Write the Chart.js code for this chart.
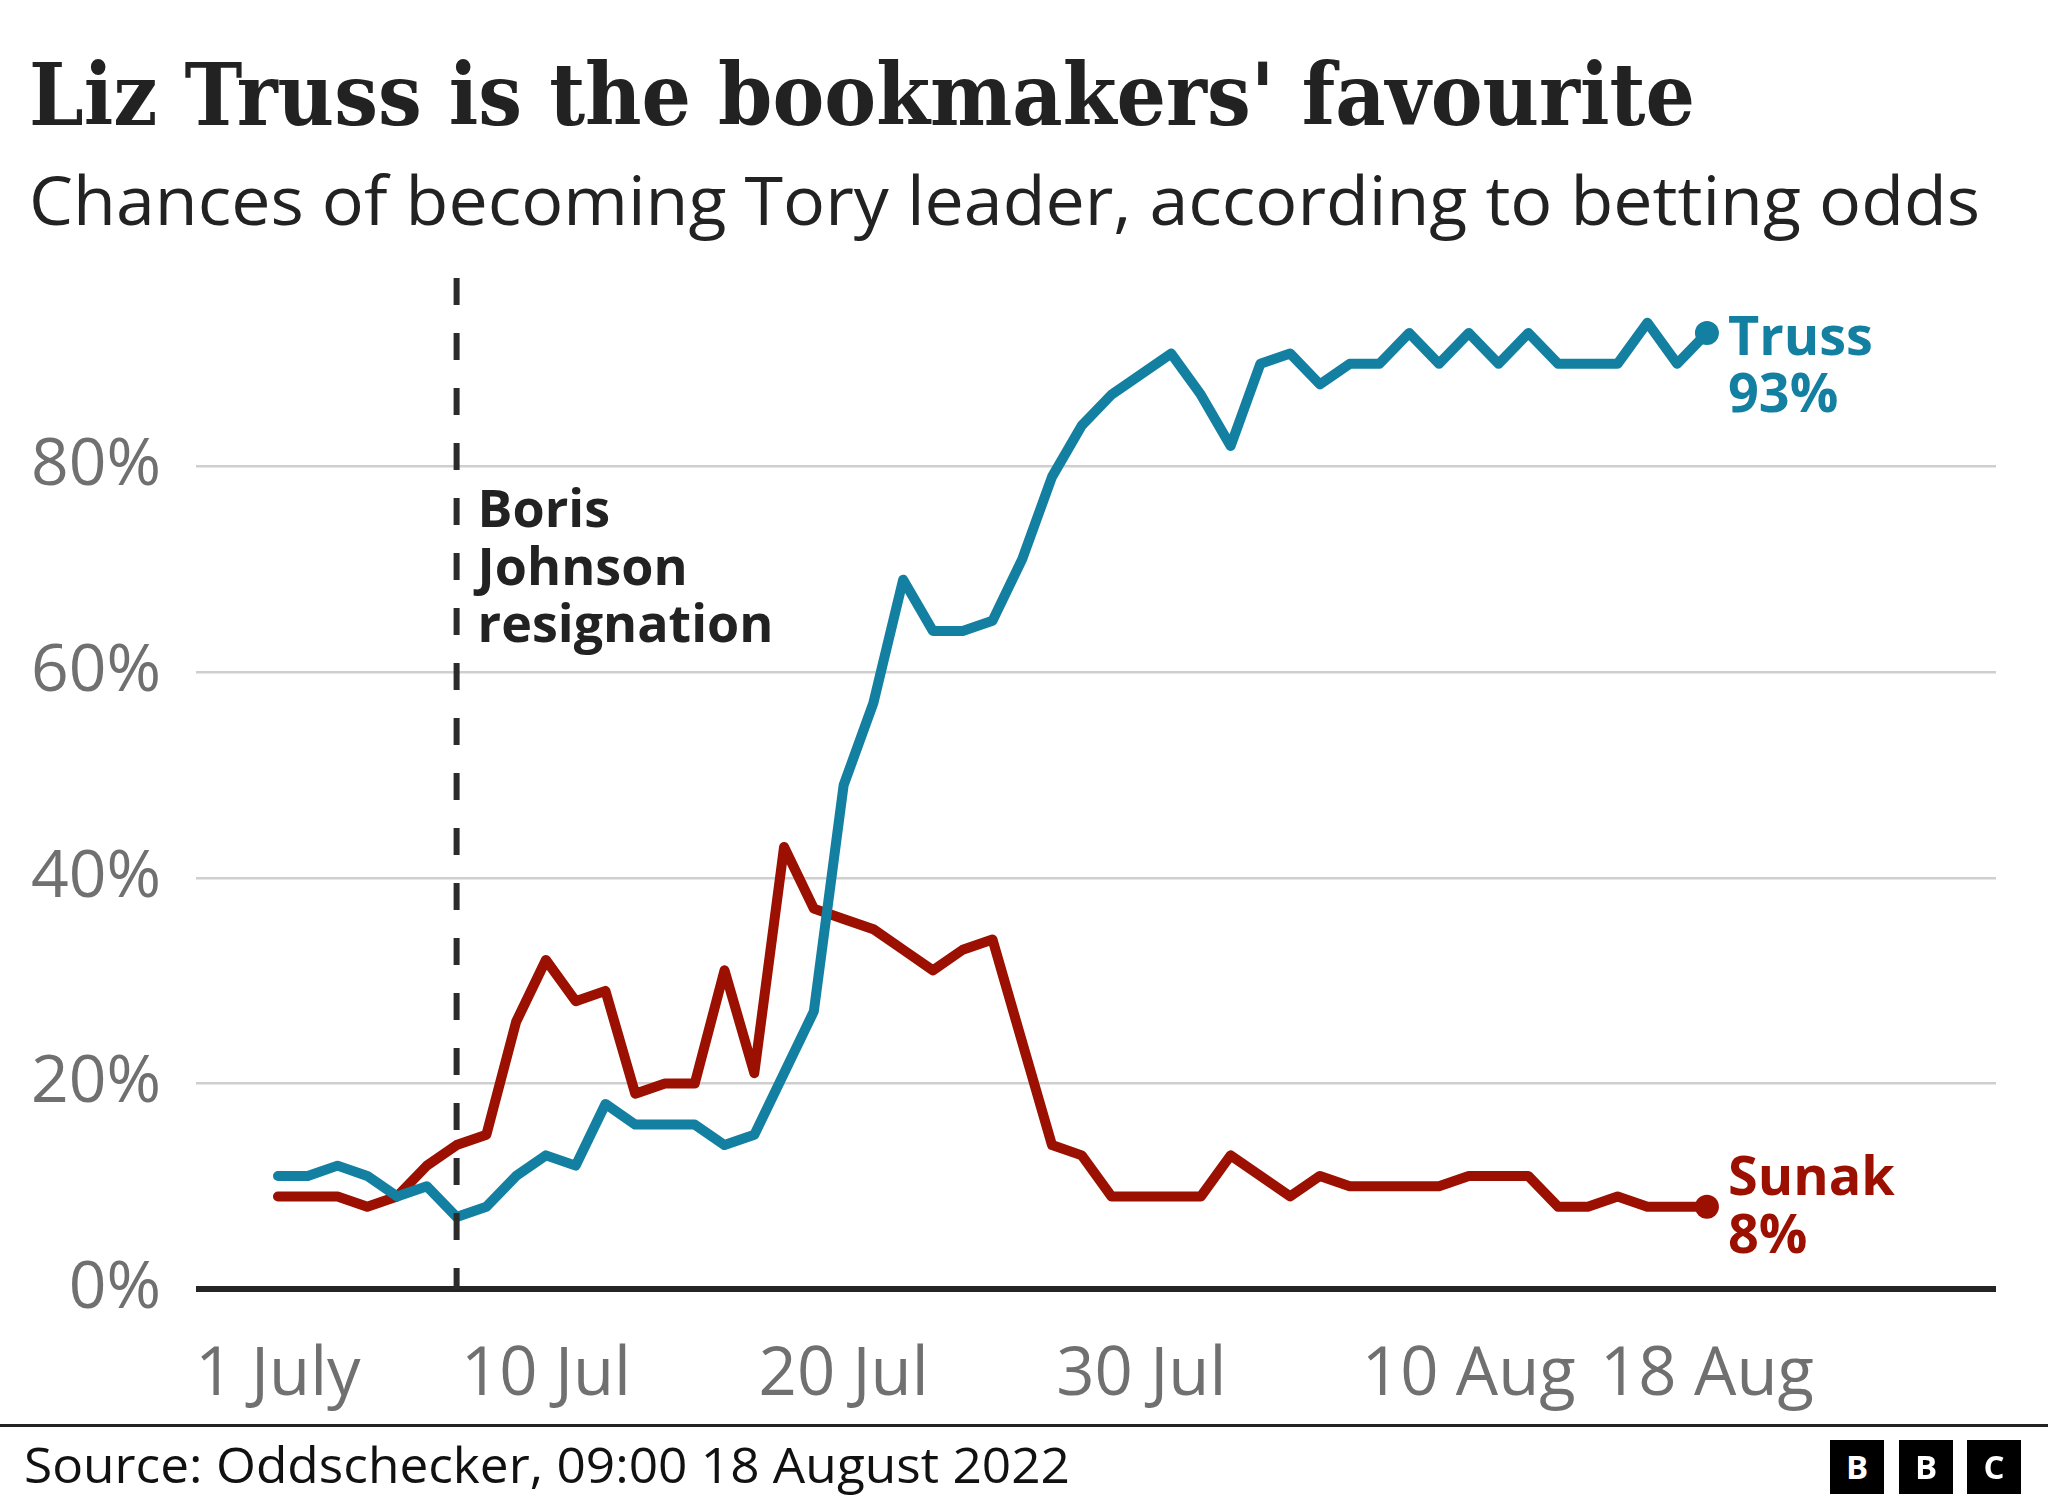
<!DOCTYPE html>
<html>
<head>
<meta charset="utf-8">
<script src="https://cdn.jsdelivr.net/npm/chart.js@4.4.0/dist/chart.umd.min.js"></script>
<style>
html,body{margin:0;padding:0;background:#fff;}
#wrap{position:relative;width:2048px;height:1504px;overflow:hidden;background:#fff;}
#c{position:absolute;left:0;top:0;}
.txt{position:absolute;white-space:nowrap;line-height:1;transform-origin:0 0;left:0;top:0;}
#title{font-family:'DejaVu Serif',serif;font-weight:bold;font-size:86px;color:#222;}
#subtitle{font-family:'Open Sans',sans-serif;font-size:67px;color:#222;}
#source{font-family:'Open Sans',sans-serif;font-size:50px;color:#111;}
#rule{position:absolute;left:0;top:1424px;width:2048px;height:3px;background:#222;}
.bbc{position:absolute;top:1440px;width:54px;height:54px;background:#000;color:#fff;font-family:'Open Sans',sans-serif;font-weight:bold;font-size:33px;text-align:center;line-height:54px;}
</style>
</head>
<body>
<div id="wrap">
  <canvas id="c" width="2048" height="1504"></canvas>
  <div id="title" class="txt" data-left="29" data-base="125" data-width="1666">Liz Truss is the bookmakers' favourite</div>
  <div id="subtitle" class="txt" data-left="29" data-base="225" data-width="1951">Chances of becoming Tory leader, according to betting odds</div>
  <div id="rule"></div>
  <div id="source" class="txt" data-left="24" data-base="1483" data-width="1046">Source: Oddschecker, 09:00 18 August 2022</div>
  <div class="bbc" style="left:1830px">B</div>
  <div class="bbc" style="left:1899px">B</div>
  <div class="bbc" style="left:1967px">C</div>
</div>
<script>
// ---- data ----
const dates = [
  '2022-07-01','2022-07-02','2022-07-03','2022-07-04','2022-07-05','2022-07-06','2022-07-07',
  '2022-07-08','2022-07-09','2022-07-10','2022-07-11','2022-07-12','2022-07-13','2022-07-14',
  '2022-07-15','2022-07-16','2022-07-17','2022-07-18','2022-07-19','2022-07-20','2022-07-21',
  '2022-07-22','2022-07-23','2022-07-24','2022-07-25','2022-07-26','2022-07-27','2022-07-28',
  '2022-07-29','2022-07-30','2022-07-31','2022-08-01','2022-08-02','2022-08-03','2022-08-04',
  '2022-08-05','2022-08-06','2022-08-07','2022-08-08','2022-08-09','2022-08-10','2022-08-11',
  '2022-08-12','2022-08-13','2022-08-14','2022-08-15','2022-08-16','2022-08-17','2022-08-18'
];
const trussValues = [11,11,12,11,9,10,7,8,11,13,12,18,16,16,16,14,15,21,27,49,57,69,64,64,65,71,79,84,87,89,91,87,82,90,91,88,90,90,93,90,93,90,93,90,90,90,94,90,93];
const sunakValues = [9,9,9,8,9,12,14,15,26,32,28,29,19,20,20,31,21,43,37,36,35,33,31,33,34,24,14,13,9,9,9,9,13,11,9,11,10,10,10,10,11,11,11,8,8,9,8,8,8];
const xTickDates = ['2022-07-01','2022-07-10','2022-07-20','2022-07-30','2022-08-10','2022-08-18'];
const xTickLabels = ['1 July','10 Jul','20 Jul','30 Jul','10 Aug','18 Aug'];
const yTickValues = [0,20,40,60,80];
const resignationDate = '2022-07-07';
const resignationLabel = ['Boris','Johnson','resignation'];
const seriesNames = ['Truss','Sunak'];

// ---- styles ----
const BLUE = '#1380A1';
const RED = '#9b1000';
const GREY = '#707070';

const xTickDays = xTickDates.map(d => dates.indexOf(d));
const resignationDay = dates.indexOf(resignationDate);
const lastIdx = dates.length - 1;

function pts(vals){ return vals.map((v,i)=>({x:i,y:v})); }

const annot = {
  id:'annot',
  afterDatasetsDraw(chart){
    const {ctx, chartArea, scales:{x,y}} = chart;
    const px = x.getPixelForValue(resignationDay);
    ctx.save();
    ctx.strokeStyle = '#2b2b2b';
    ctx.lineWidth = 6;
    ctx.setLineDash([27,28]);
    ctx.beginPath();
    ctx.moveTo(px, chartArea.top + 17);
    ctx.lineTo(px, chartArea.bottom);
    ctx.stroke();
    ctx.restore();
  },
  afterDraw(chart){
    const {ctx, chartArea, scales:{x,y}} = chart;
    ctx.save();
    ctx.textAlign = 'left';
    ctx.textBaseline = 'alphabetic';
    const px = x.getPixelForValue(resignationDay);
    ctx.fillStyle = '#222';
    ctx.font = 'bold 52px "Open Sans"';
    const offs = [266, 324, 381];
    resignationLabel.forEach((t,i)=>ctx.fillText(t, px + 21, chartArea.top + offs[i]));
    const lx = x.getPixelForValue(lastIdx) + 21;
    ctx.font = 'bold 54px "Open Sans"';
    const ty = y.getPixelForValue(trussValues[lastIdx]);
    ctx.fillStyle = BLUE;
    ctx.fillText(seriesNames[0], lx, ty + 22);
    ctx.fillText(trussValues[lastIdx] + '%', lx, ty + 79);
    const sy = y.getPixelForValue(sunakValues[lastIdx]);
    ctx.fillStyle = RED;
    ctx.fillText(seriesNames[1], lx, sy - 12);
    ctx.fillText(sunakValues[lastIdx] + '%', lx, sy + 46);
    ctx.restore();
  }
};

const endDot = (ctx) => ctx.dataIndex === lastIdx ? 12 : 0;

new Chart(document.getElementById('c'), {
  type: 'line',
  data: {
    datasets: [
      { label: seriesNames[0], data: pts(trussValues), borderColor: BLUE, backgroundColor: BLUE,
        borderWidth: 10, pointRadius: endDot, pointHoverRadius: 0, pointBorderWidth: 0,
        pointBackgroundColor: BLUE, borderJoinStyle: 'round', borderCapStyle: 'round', tension: 0, fill: false },
      { label: seriesNames[1], data: pts(sunakValues), borderColor: RED, backgroundColor: RED,
        borderWidth: 10, pointRadius: endDot, pointHoverRadius: 0, pointBorderWidth: 0,
        pointBackgroundColor: RED, borderJoinStyle: 'round', borderCapStyle: 'round', tension: 0, fill: false }
    ]
  },
  options: {
    responsive: false,
    animation: false,
    devicePixelRatio: 1,
    events: [],
    layout: { padding: { top: 261, right: 52, left: 0, bottom: 0 } },
    plugins: { legend: { display: false }, tooltip: { enabled: false }, title: { display: false } },
    scales: {
      x: {
        type: 'linear',
        min: -2.754,
        max: 57.71,
        grid: { display: false, drawTicks: false },
        border: { display: false },
        afterBuildTicks: (s) => { s.ticks = xTickDays.map(v => ({ value: v })); },
        afterFit: (s) => { s.height = 215; },
        ticks: {
          autoSkip: false, maxRotation: 0, padding: 47,
          color: GREY,
          font: { family: 'Open Sans', size: 67 },
          callback: (v) => { const k = xTickDays.indexOf(v); return k >= 0 ? xTickLabels[k] : ''; }
        }
      },
      y: {
        min: 0,
        max: 100,
        grid: {
          drawTicks: false,
          color: (c) => (c.tick && c.tick.value === 0) ? '#252525' : '#cfcfcf',
          lineWidth: (c) => (c.tick && c.tick.value === 0) ? 6 : 2.5
        },
        border: { display: false },
        afterBuildTicks: (s) => { s.ticks = yTickValues.map(v => ({ value: v })); },
        afterFit: (s) => { s.width = 196; },
        ticks: {
          padding: 35,
          color: GREY,
          font: { family: 'Open Sans', size: 66 },
          callback: (v) => v + '%'
        }
      }
    }
  },
  plugins: [annot]
});

document.querySelectorAll('.txt').forEach(el => {
  const left = +el.dataset.left, base = +el.dataset.base, w = +el.dataset.width;
  const m = document.createElement('span');
  m.style.cssText = 'display:inline-block;width:0;height:0;vertical-align:baseline;';
  el.appendChild(m);
  const off = m.offsetTop;
  el.style.left = left + 'px';
  el.style.top = (base - off) + 'px';
  const actual = el.getBoundingClientRect().width;
  el.style.transform = 'scaleX(' + (w / actual) + ')';
});
</script>
</body>
</html>
